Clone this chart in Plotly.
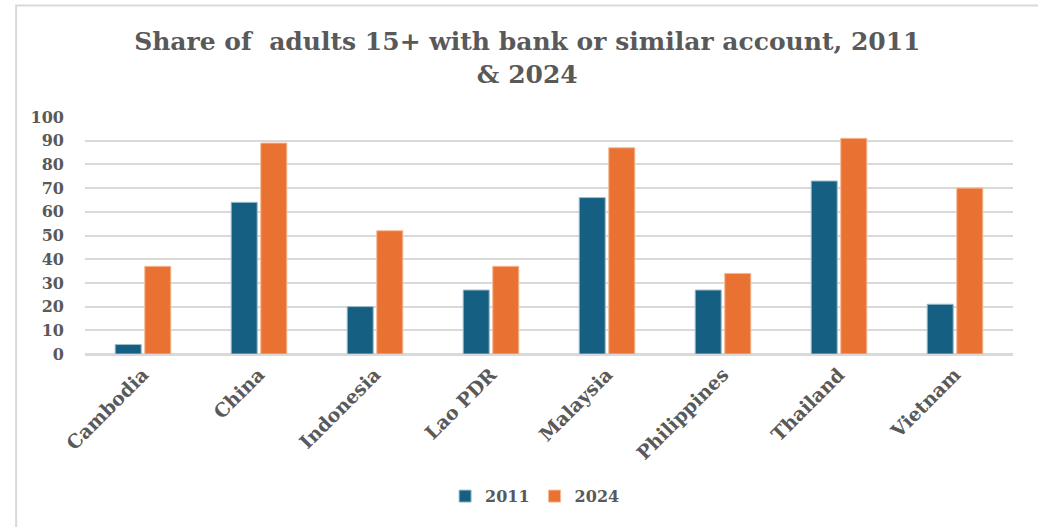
import plotly.graph_objects as go

countries = ["Cambodia", "China", "Indonesia", "Lao PDR", "Malaysia", "Philippines", "Thailand", "Vietnam"]
values_2011 = [4, 64, 20, 27, 66, 27, 73, 21]
values_2024 = [37, 89, 52, 37, 87, 34, 91, 70]
y_ticks = [0, 10, 20, 30, 40, 50, 60, 70, 80, 90, 100]

BLUE = "#156082"
ORANGE = "#E97132"
TXT = "#595959"
FONT = "DejaVu Serif"

fig = go.Figure()
fig.add_trace(go.Bar(name="2011", x=countries, y=values_2011, marker=dict(color=BLUE, line=dict(color="#9fbccb", width=1))))
fig.add_trace(go.Bar(name="2024", x=countries, y=values_2024, marker=dict(color=ORANGE, line=dict(color="#f5b895", width=1))))

fig.update_layout(
    width=1038, height=527,
    margin=dict(l=85, r=25, t=117, b=173),
    paper_bgcolor="white", plot_bgcolor="white",
    barmode="group", bargap=0.49, bargroupgap=0.12,
    title=dict(text="<b>Share of  adults 15+ with bank or similar account, 2011<br>& 2024</b>",
               x=0.508, xanchor="center", y=0.905, yanchor="top",
               font=dict(family=FONT, size=25, color=TXT)),
    font=dict(family=FONT, color=TXT, size=16),
    legend=dict(orientation="h", x=0.485, xanchor="center", y=-0.6, yanchor="middle",
                font=dict(family=FONT, size=16, color=TXT, weight="bold"), itemwidth=30, tracegroupgap=0),
    xaxis=dict(tickangle=-45, showgrid=False, showline=True, linecolor="#D9D9D9", linewidth=2,
               tickfont=dict(family=FONT, size=19, color=TXT, weight="bold")),
    yaxis=dict(range=[0, 100], tickvals=y_ticks, showgrid=True, gridcolor="#D9D9D9", gridwidth=2,
               zeroline=True, zerolinecolor="#D9D9D9", zerolinewidth=2, ticklabelstandoff=20,
               tickfont=dict(family=FONT, size=16, color=TXT, weight="bold")),
    shapes=[dict(type="rect", xref="paper", yref="paper", x0=-0.0742, x1=1.05, y0=-1.2, y1=1.47,
                 line=dict(color="#D9D9D9", width=2), fillcolor="rgba(0,0,0,0)", layer="below")],
)

fig.write_html("out.html")
